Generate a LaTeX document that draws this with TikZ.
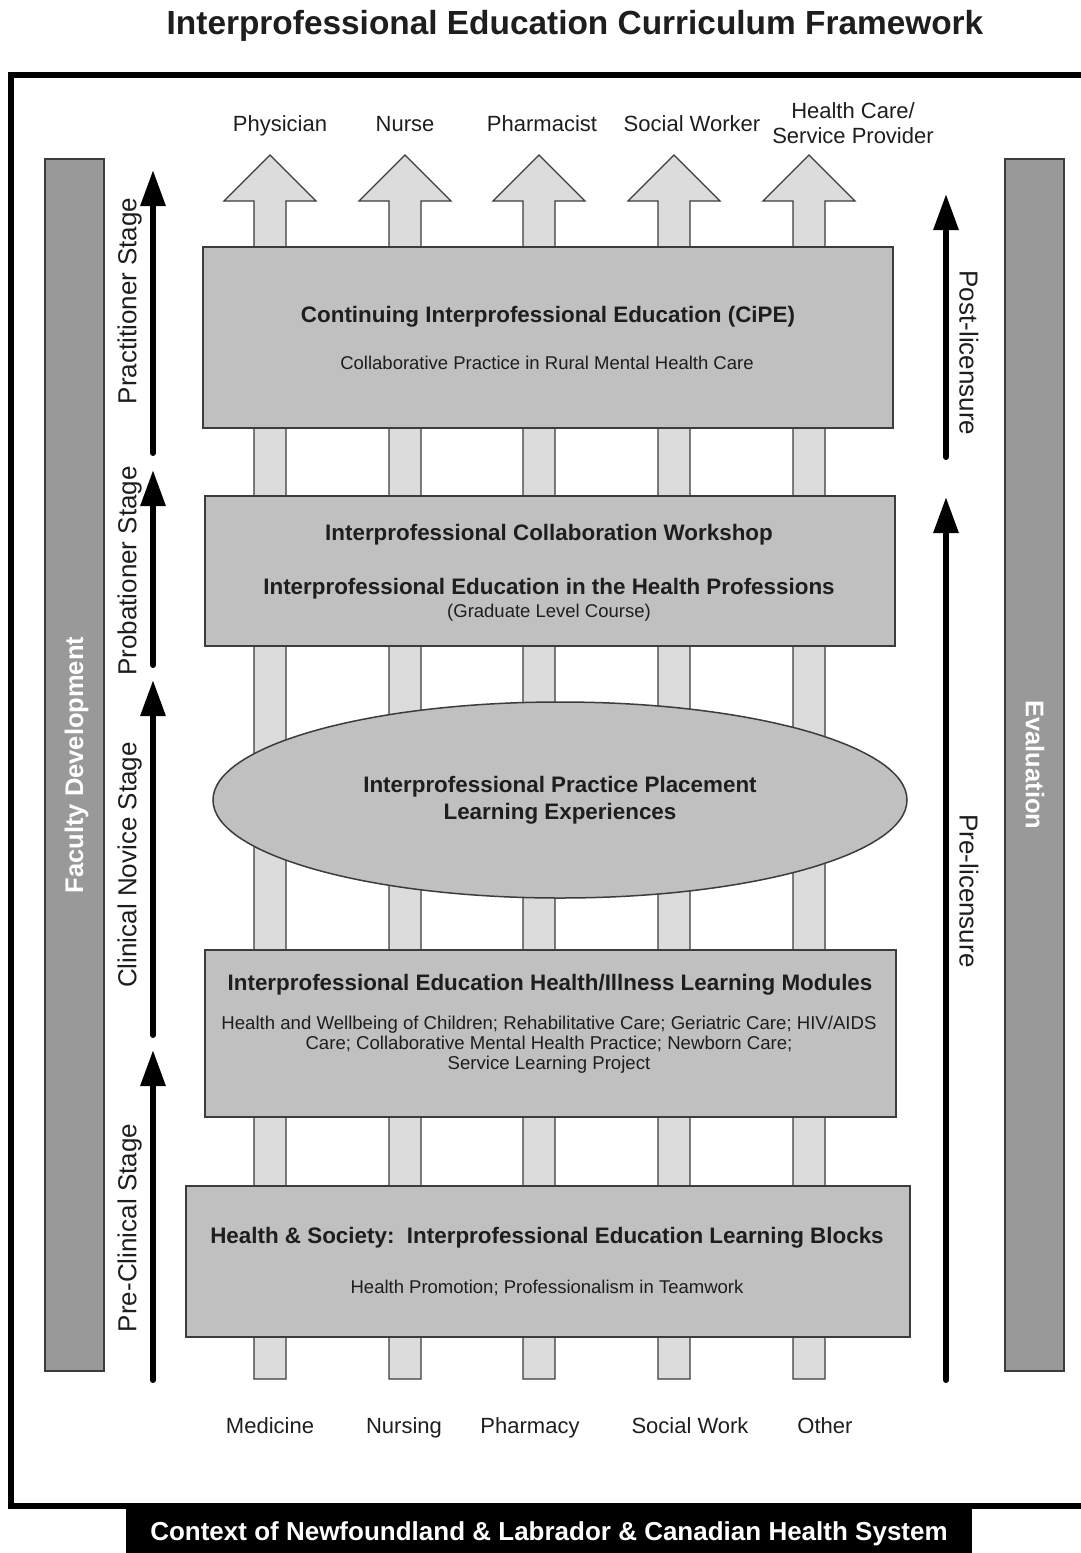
\documentclass[tikz,border=0pt]{standalone}
\usepackage{fontspec}
\setmainfont{Liberation Sans}
\usetikzlibrary{arrows.meta,shapes.geometric}
\definecolor{boxgray}{HTML}{C0C0C0}
\definecolor{shaftgray}{HTML}{DCDCDC}
\definecolor{bargray}{HTML}{999999}
\definecolor{edgegray}{HTML}{3C3C3C}
\definecolor{txt}{HTML}{1E1E1E}
\tikzset{
  lvlbox/.style={draw=edgegray, line width=1.5pt, fill=boxgray, inner sep=0pt},
  colarrow/.style={draw=edgegray, line width=1.3pt, fill=shaftgray},
  sidebar/.style={draw=edgegray, line width=1.2pt, fill=bargray, inner sep=0pt},
  stagearrow/.style={line width=6pt, line cap=round, -{Triangle[length=36pt,width=24pt]}},
  lbl/.style={font=\fontsize{22}{25}\selectfont, text=txt, align=center, inner sep=0pt, text height=19.8pt, text depth=4.05pt},
  lblm/.style={font=\fontsize{22}{25}\selectfont, text=txt, align=center, inner sep=0pt},
  stagelbl/.style={font=\fontsize{26}{28}\selectfont, text=txt, inner sep=0pt, text height=23.4pt, text depth=4.8pt},
  boxtitle/.style={font=\bfseries\fontsize{22.4}{25}\selectfont, text=txt, align=center, inner sep=0pt, text height=20.2pt, text depth=4.1pt},
  boxtitlem/.style={font=\bfseries\fontsize{22.4}{25}\selectfont, text=txt, align=center, inner sep=0pt},
  boxsub/.style={font=\fontsize{18.5}{21}\selectfont, text=txt, align=center, inner sep=0pt, text height=16.7pt, text depth=3.4pt},
  boxbody/.style={font=\fontsize{18.6}{20}\selectfont, text=txt, align=center, inner sep=0pt},
  bartext/.style={font=\bfseries\fontsize{25.5}{28}\selectfont, text=white, inner sep=0pt, text height=23pt, text depth=4.7pt},
}
\begin{document}
\begin{tikzpicture}[x=1pt,y=-1pt]
\useasboundingbox[fill=white] (0,0) rectangle (1080,1553);

% title
\node[font=\bfseries\fontsize{33.4}{36}\selectfont, text=txt, inner sep=0pt, text height=30pt, text depth=6.1pt] (title) at (575,23) {Interprofessional Education Curriculum Framework};

% outer frame
\draw[line width=6pt] (1090,75) -- (11,75) -- (11,1506) -- (1090,1506);
\node[fill=black, minimum width=846pt, minimum height=47pt, inner sep=0pt] (ctxbox) at (549,1530) {};
\node[font=\bfseries\fontsize{26}{28}\selectfont, text=white, inner sep=0pt, text height=23.4pt, text depth=4.8pt] (ctx) at (549,1531) {Context of Newfoundland \& Labrador \& Canadian Health System};

% side bars
\node[sidebar, minimum width=59pt, minimum height=1212pt] (faculty) at (74.5,765) {};
\node[bartext, rotate=90] (facultytxt) at (74,765) {Faculty Development};
\node[sidebar, minimum width=59pt, minimum height=1212pt] (evalbar) at (1034.5,765) {};
\node[bartext, rotate=-90] (evaltxt) at (1035,765) {Evaluation};

% column arrows (profession streams)
\foreach \c/\nm in {270/med,405/nur,539/pha,674/soc,809/oth}{
  \draw[colarrow] (\c-16,1379) -- (\c-16,201) -- (\c-46,201) -- (\c,155) -- (\c+46,201) -- (\c+16,201) -- (\c+16,1379) -- cycle;
}

% top labels
\node[lbl] (physician) at (280,124) {Physician};
\node[lbl] (nurse) at (405,124) {Nurse};
\node[lbl] (pharmacist) at (542,124) {Pharmacist};
\node[lbl] (socialworker) at (692,124) {Social Worker};
\node[lblm] (hcsp) at (853,123) {Health Care/\\Service Provider};

% bottom labels
\node[lbl] (medicine) at (270,1426) {Medicine};
\node[lbl] (nursing) at (404,1426) {Nursing};
\node[lbl] (pharmacy) at (530,1426) {Pharmacy};
\node[lbl] (socialwork) at (690,1426) {Social Work};
\node[lbl] (other) at (825,1426) {Other};

% level boxes
\node[lvlbox, minimum width=690pt, minimum height=181pt] (cipe) at (548,337.5) {};
\node[boxtitle] (cipeT) at (548,314) {Continuing Interprofessional Education (CiPE)};
\node[boxsub] (cipeS) at (547,363) {Collaborative Practice in Rural Mental Health Care};

\node[lvlbox, minimum width=690pt, minimum height=150pt] (workshop) at (550,571) {};
\node[boxtitle] (workshopT) at (549,532) {Interprofessional Collaboration Workshop};
\node[boxtitle] (ipehp) at (549,586) {Interprofessional Education in the Health Professions};
\node[boxsub] (grad) at (549,611) {(Graduate Level Course)};

\node[ellipse, draw=edgegray, line width=1.5pt, fill=boxgray, minimum width=694pt, minimum height=196pt, inner sep=0pt] (placement) at (560,800) {};
\node[boxtitlem] (placementT) at (560,800) {Interprofessional Practice Placement\\[2pt]Learning Experiences};

\node[lvlbox, minimum width=691pt, minimum height=167pt] (modules) at (550.5,1033.5) {};
\node[boxtitle] (modulesT) at (550,982) {Interprofessional Education Health/Illness Learning Modules};
\node[boxbody] (modulesB) at (549,1045) {Health and Wellbeing of Children; Rehabilitative Care; Geriatric Care; HIV/AIDS\\Care; Collaborative Mental Health Practice; Newborn Care;\\Service Learning Project};

\node[lvlbox, minimum width=724pt, minimum height=151pt] (society) at (548,1261.5) {};
\node[boxtitle] (societyT) at (547,1235) {Health \& Society:\ \ Interprofessional Education Learning Blocks};
\node[boxsub] (societyS) at (547,1287) {Health Promotion; Professionalism in Teamwork};

% stage arrows (left)
\coordinate (prA) at (153,453); \coordinate (prB) at (153,170);
\coordinate (pbA) at (153,665); \coordinate (pbB) at (153,470);
\coordinate (cnA) at (153,1035); \coordinate (cnB) at (153,680);
\coordinate (pcA) at (153,1380); \coordinate (pcB) at (153,1050);
\draw[stagearrow] (prA) -- (prB);
\draw[stagearrow] (pbA) -- (pbB);
\draw[stagearrow] (cnA) -- (cnB);
\draw[stagearrow] (pcA) -- (pcB);
\node[stagelbl, rotate=90] (practitioner) at (127,301) {Practitioner Stage};
\node[stagelbl, rotate=90] (probationer) at (127,571) {Probationer Stage};
\node[stagelbl, rotate=90] (clinical) at (127,865) {Clinical Novice Stage};
\node[stagelbl, rotate=90] (preclinical) at (127,1228) {Pre-Clinical Stage};

% licensure arrows (right)
\coordinate (poA) at (946,457); \coordinate (poB) at (946,194);
\coordinate (plA) at (946,1380); \coordinate (plB) at (946,497);
\draw[stagearrow] (poA) -- (poB);
\draw[stagearrow] (plA) -- (plB);
\node[stagelbl, rotate=-90] (post) at (969,353) {Post-licensure};
\node[stagelbl, rotate=-90] (pre) at (969,891) {Pre-licensure};
\end{tikzpicture}
\end{document}
